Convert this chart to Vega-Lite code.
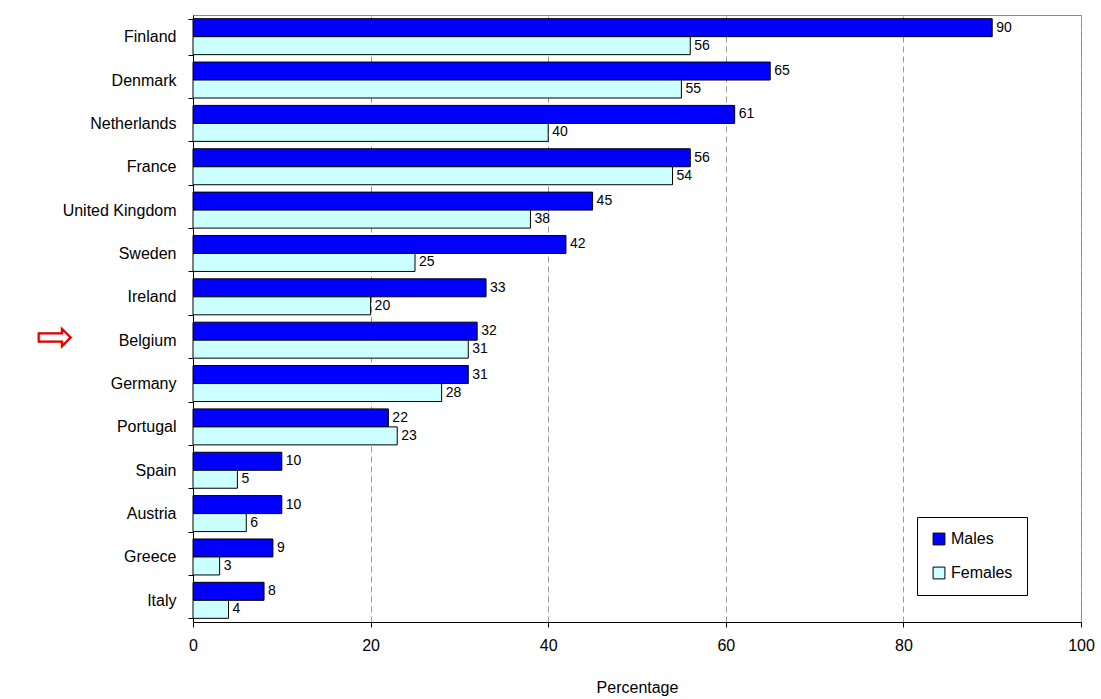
{
  "$schema": "https://vega.github.io/schema/vega-lite/v6.json",
  "width": 888,
  "height": 607,
  "autosize": "none",
  "padding": {"left": 193, "top": 15, "right": 20, "bottom": 77},
  "background": "white",
  "config": {
    "font": "Liberation Sans",
    "view": {"stroke": "#888888", "strokeWidth": 1}
  },
  "data": {
    "values": [
      {"country": "Finland", "sex": "Males", "value": 90},
      {"country": "Finland", "sex": "Females", "value": 56},
      {"country": "Denmark", "sex": "Males", "value": 65},
      {"country": "Denmark", "sex": "Females", "value": 55},
      {"country": "Netherlands", "sex": "Males", "value": 61},
      {"country": "Netherlands", "sex": "Females", "value": 40},
      {"country": "France", "sex": "Males", "value": 56},
      {"country": "France", "sex": "Females", "value": 54},
      {"country": "United Kingdom", "sex": "Males", "value": 45},
      {"country": "United Kingdom", "sex": "Females", "value": 38},
      {"country": "Sweden", "sex": "Males", "value": 42},
      {"country": "Sweden", "sex": "Females", "value": 25},
      {"country": "Ireland", "sex": "Males", "value": 33},
      {"country": "Ireland", "sex": "Females", "value": 20},
      {"country": "Belgium", "sex": "Males", "value": 32},
      {"country": "Belgium", "sex": "Females", "value": 31},
      {"country": "Germany", "sex": "Males", "value": 31},
      {"country": "Germany", "sex": "Females", "value": 28},
      {"country": "Portugal", "sex": "Males", "value": 22},
      {"country": "Portugal", "sex": "Females", "value": 23},
      {"country": "Spain", "sex": "Males", "value": 10},
      {"country": "Spain", "sex": "Females", "value": 5},
      {"country": "Austria", "sex": "Males", "value": 10},
      {"country": "Austria", "sex": "Females", "value": 6},
      {"country": "Greece", "sex": "Males", "value": 9},
      {"country": "Greece", "sex": "Females", "value": 3},
      {"country": "Italy", "sex": "Males", "value": 8},
      {"country": "Italy", "sex": "Females", "value": 4}
    ]
  },
  "encoding": {
    "y": {
      "field": "country",
      "type": "nominal",
      "sort": null,
      "scale": {"paddingInner": 0.17, "paddingOuter": 0.085},
      "axis": {
        "title": null,
        "labelFontSize": 16,
        "labelColor": "black",
        "labelPadding": 12,
        "domainColor": "black",
        "tickColor": "black",
        "tickBand": "extent",
        "tickSize": 5
      }
    },
    "x": {
      "field": "value",
      "type": "quantitative",
      "scale": {"domain": [0, 100]},
      "axis": {
        "title": "Percentage",
        "titleFontSize": 16,
        "titleFontWeight": "normal",
        "titlePadding": 26,
        "labelFontSize": 16,
        "labelColor": "black",
        "labelPadding": 10,
        "labelFlush": false,
        "tickCount": 5,
        "domainColor": "black",
        "tickColor": "black",
        "grid": true,
        "gridDash": [6, 4],
        "gridColor": "#999999"
      }
    },
    "yOffset": {"field": "sex", "type": "nominal", "sort": ["Males", "Females"]}
  },
  "layer": [
    {
      "mark": {"type": "bar", "stroke": "black", "strokeWidth": 1},
      "encoding": {
        "color": {
          "field": "sex",
          "type": "nominal",
          "sort": ["Males", "Females"],
          "scale": {"domain": ["Males", "Females"], "range": ["#0000FF", "#CCFFFF"]},
          "legend": {
            "title": null,
            "orient": "none",
            "legendX": 724,
            "legendY": 502,
            "symbolType": "square",
            "symbolSize": 140,
            "symbolStrokeColor": "black",
            "symbolStrokeWidth": 1,
            "labelFontSize": 16,
            "labelColor": "black",
            "rowPadding": 18,
            "padding": 14,
            "labelLimit": 200,
            "strokeColor": "black",
            "fillColor": "white"
          }
        }
      }
    },
    {
      "mark": {"type": "text", "align": "left", "dx": 4, "fontSize": 14, "color": "black"},
      "encoding": {"text": {"field": "value", "type": "quantitative"}}
    },
    {
      "transform": [{"filter": "datum.country === 'Belgium' && datum.sex === 'Males'"}],
      "mark": {"type": "text", "text": "⇨", "fontSize": 46, "color": "#E00000", "dy": 16},
      "encoding": {"x": {"datum": -15.5, "type": "quantitative"}, "yOffset": {"value": 0}}
    }
  ]
}
